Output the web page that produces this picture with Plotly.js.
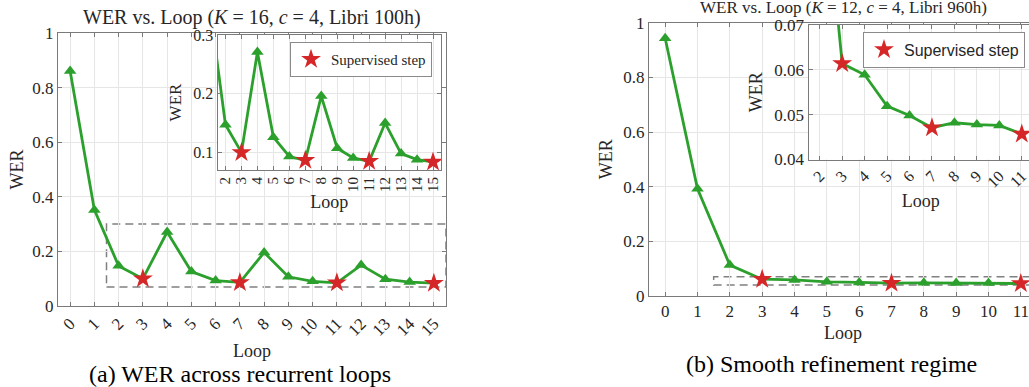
<!DOCTYPE html>
<html>
<head>
<meta charset="utf-8">
<script src="https://cdn.plot.ly/plotly-3.0.1.min.js"></script>
<style>
html,body{margin:0;padding:0;overflow:hidden;background:#ffffff;}
#chart{width:1045px;height:387px;}
</style>
</head>
<body>
<div id="chart"></div>
<script>
// ---------------- data ----------------
const loopsA = [0,1,2,3,4,5,6,7,8,9,10,11,12,13,14,15];
const werA = [0.861,0.352,0.147,0.100,0.271,0.126,0.093,0.0865,0.196,0.107,0.0905,0.0848,0.150,0.098,0.0876,0.0837];
const supervisedA = [3,7,11,15];

const loopsB = [0,1,2,3,4,5,6,7,8,9,10,11];
const werB = [0.943,0.392,0.113,0.0614,0.0589,0.0519,0.0498,0.0471,0.0482,0.0478,0.0476,0.0457];
const supervisedB = [3,7,11];

const titleA = 'WER vs. Loop (<i>K</i> = 16, <i>c</i> = 4, Libri 100h)';
const titleB = 'WER vs. Loop (<i>K</i> = 12, <i>c</i> = 4, Libri 960h)';
const captionA = '(a) WER across recurrent loops';
const captionB = '(b) Smooth refinement regime';
const legendLabel = 'Supervised step';
const xLabel = 'Loop';
const yLabel = 'WER';

// ---------------- style ----------------
const W = 1045, H = 387;
const SERIF = '"Liberation Serif", "Times New Roman", serif';
const SANS = '"Liberation Sans", Arial, sans-serif';
const GREEN = '#2ca02c';
const RED = '#d62728';
const AXC = '#7a7a7a';
const TXT = '#262626';

function dx(a, b) { return [a / W, b / W]; }
function dy(top, bottom) { return [1 - bottom / H, 1 - top / H]; }

function panelTraces(loops, wer, sup, xa, ya, legendId) {
  const normX = [], normY = [], supX = [], supY = [];
  loops.forEach((l, i) => {
    if (sup.includes(l)) { supX.push(l); supY.push(wer[i]); }
    else { normX.push(l); normY.push(wer[i]); }
  });
  return [
    {x: loops, y: wer, xaxis: xa, yaxis: ya, type: 'scatter', mode: 'lines',
     line: {color: GREEN, width: 2.8}, showlegend: false, hoverinfo: 'skip'},
    {x: normX, y: normY, xaxis: xa, yaxis: ya, type: 'scatter', mode: 'markers',
     marker: {symbol: 'triangle-up', size: 11, color: GREEN}, showlegend: false},
    {x: supX, y: supY, xaxis: xa, yaxis: ya, type: 'scatter', mode: 'markers',
     marker: {symbol: 'star', size: 15, color: RED, line: {width: 0}},
     name: legendLabel, showlegend: !!legendId, legend: legendId || 'legend'}
  ];
}

const traces = [].concat(
  panelTraces(loopsA, werA, supervisedA, 'x', 'y', null),
  panelTraces(loopsA, werA, supervisedA, 'x2', 'y2', 'legend'),
  panelTraces(loopsB, werB, supervisedB, 'x3', 'y3', null),
  panelTraces(loopsB, werB, supervisedB, 'x4', 'y4', 'legend2')
);

function axis(extra) {
  return Object.assign({
    showline: true, linecolor: AXC, linewidth: 1, mirror: 'ticks',
    ticks: 'inside', ticklen: 4, tickcolor: AXC, tickwidth: 1,
    showgrid: true, gridcolor: '#e6e6e6', gridwidth: 1, zeroline: false,
    tickfont: {family: SERIF, size: 17, color: TXT},
    fixedrange: true
  }, extra);
}

const layout = {
  width: W, height: H,
  margin: {l: 0, r: 0, t: 0, b: 0, pad: 0},
  paper_bgcolor: '#ffffff', plot_bgcolor: '#ffffff',
  showlegend: true,
  font: {family: SERIF, color: TXT},
  // left main
  xaxis: axis({domain: dx(58, 446), anchor: 'y', range: [-0.5, 15.5], dtick: 1, tick0: 0,
    tickangle: -45,
    title: {text: xLabel, font: {family: SERIF, size: 18, color: TXT}, standoff: 5}}),
  yaxis: axis({domain: dy(33, 306), anchor: 'x', range: [0, 1], dtick: 0.2, tick0: 0,
    title: {text: yLabel, font: {family: SERIF, size: 18, color: TXT}, standoff: 4}}),
  // left inset
  xaxis2: axis({domain: dx(217.5, 441), anchor: 'y2', range: [1.5, 15.5], dtick: 1, tick0: 0,
    tickangle: -90, tickfont: {family: SERIF, size: 15, color: TXT},
    title: {text: xLabel, font: {family: SERIF, size: 18, color: TXT}, standoff: 2}}),
  yaxis2: axis({domain: dy(35, 170), anchor: 'x2', range: [0.07, 0.3], dtick: 0.1, tick0: 0,
    tickfont: {family: SERIF, size: 16, color: TXT},
    title: {text: yLabel, font: {family: SERIF, size: 17, color: TXT}, standoff: 7}}),
  // right main
  xaxis3: axis({domain: dx(649, 1037), anchor: 'y3', range: [-0.5, 11.5], dtick: 1, tick0: 0,
    tickangle: 0,
    title: {text: xLabel, font: {family: SERIF, size: 18, color: TXT}, standoff: 5}}),
  yaxis3: axis({domain: dy(22.7, 296), anchor: 'x3', range: [0, 1], dtick: 0.2, tick0: 0,
    title: {text: yLabel, font: {family: SERIF, size: 18, color: TXT}, standoff: 6}}),
  // right inset
  xaxis4: axis({domain: dx(808.5, 1033), anchor: 'y4', range: [1.5, 11.5], dtick: 1, tick0: 0,
    tickangle: -45, tickfont: {family: SERIF, size: 16, color: TXT},
    title: {text: xLabel, font: {family: SERIF, size: 18, color: TXT}, standoff: 4}}),
  yaxis4: axis({domain: dy(25, 159.5), anchor: 'x4', range: [0.04, 0.07], dtick: 0.01, tick0: 0,
    tickfont: {family: SERIF, size: 17, color: TXT},
    title: {text: yLabel, font: {family: SERIF, size: 18, color: TXT}, standoff: 7}}),
  legend: {x: 290 / W, y: 1 - 42 / H, xanchor: 'left', yanchor: 'top',
    bgcolor: '#ffffff', bordercolor: '#8a8a8a', borderwidth: 1,
    font: {family: SERIF, size: 15, color: TXT}},
  legend2: {x: 863 / W, y: 1 - 31.5 / H, xanchor: 'left', yanchor: 'top',
    bgcolor: '#ffffff', bordercolor: '#8a8a8a', borderwidth: 1,
    font: {family: SANS, size: 16, color: TXT}},
  shapes: [
    {type: 'rect', xref: 'x', yref: 'y', x0: 1.5, x1: 15.5, y0: 0.07, y1: 0.3,
     line: {color: '#808080', width: 1.5, dash: '8px,5px'}, layer: 'below'},
    {type: 'rect', xref: 'x3', yref: 'y3', x0: 1.5, x1: 11.5, y0: 0.04, y1: 0.07,
     line: {color: '#808080', width: 1.5, dash: '8px,5px'}, layer: 'below'}
  ],
  annotations: [
    {text: titleA, xref: 'paper', yref: 'paper', x: 252 / W, y: 1 - 18 / H,
     xanchor: 'center', yanchor: 'middle', showarrow: false,
     font: {family: SERIF, size: 20, color: TXT}},
    {text: titleB, xref: 'paper', yref: 'paper', x: 843 / W, y: 1 + 4 / H,
     xanchor: 'center', yanchor: 'top', showarrow: false,
     font: {family: SERIF, size: 17, color: TXT}},
    {text: captionA, xref: 'paper', yref: 'paper', x: 240 / W, y: 1 - 374 / H,
     xanchor: 'center', yanchor: 'middle', showarrow: false,
     font: {family: SERIF, size: 24, color: '#000000'}},
    {text: captionB, xref: 'paper', yref: 'paper', x: 831 / W, y: 1 - 364 / H,
     xanchor: 'center', yanchor: 'middle', showarrow: false,
     font: {family: SERIF, size: 24, color: '#000000'}}
  ]
};

Plotly.newPlot('chart', traces, layout, {displayModeBar: false, staticPlot: true});
</script>
</body>
</html>
